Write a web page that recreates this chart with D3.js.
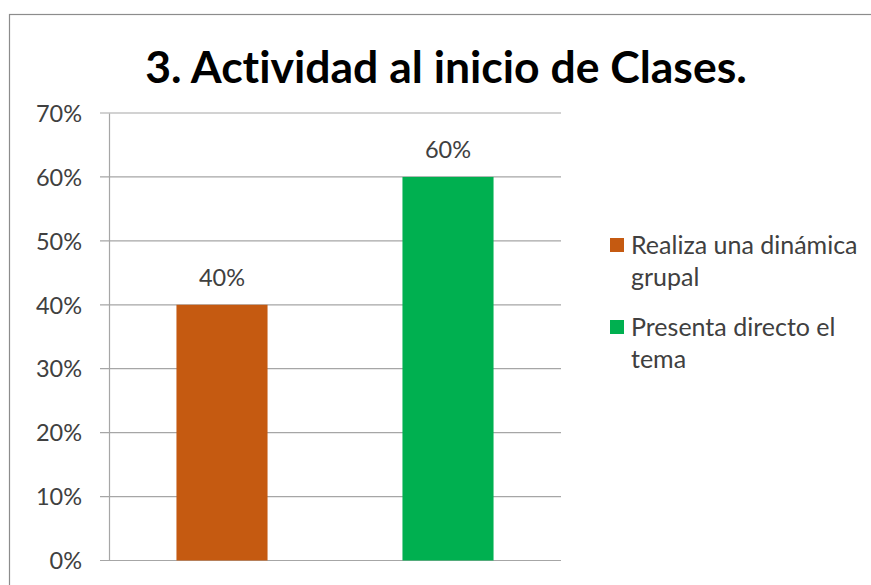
<!DOCTYPE html>
<html>
<head>
<meta charset="utf-8">
<script src="https://cdn.jsdelivr.net/npm/d3@7"></script>
<style>
  body { margin: 0; background: #fff; }
  text { font-family: Lato, "Open Sans", sans-serif; fill: #404040; font-variant-ligatures: none; }
</style>
</head>
<body>
<script>
// chart values
var categories = ["Realiza una dinámica grupal", "Presenta directo el tema"];
var values = [0.40, 0.60];
var colors = ["#C55A11", "#00B050"];
var yTicks = [0, 0.1, 0.2, 0.3, 0.4, 0.5, 0.6, 0.7];
var legendLines = [["Realiza una dinámica", "grupal"], ["Presenta directo el", "tema"]];
var title = "3. Actividad al inicio de Clases.";

var W = 871, H = 585;
var plot = {left: 109, right: 561, top: 113, bottom: 560.5};

var svg = d3.select("body").append("svg")
  .attr("width", W)
  .attr("height", H);

// chart border
svg.append("rect")
  .attr("x", 9.5).attr("y", 14.5)
  .attr("width", W + 10).attr("height", H + 10)
  .attr("fill", "#fff")
  .attr("stroke", "#8c8c8c")
  .attr("stroke-width", 1.2);

// title
svg.append("text")
  .attr("x", 446).attr("y", 83)
  .attr("text-anchor", "middle")
  .style("font-size", "44.5px")
  .style("font-weight", "bold")
  .style("fill", "#000")
  .text(title);

var x = d3.scaleBand()
  .domain(categories)
  .range([plot.left, plot.right])
  .paddingInner(0.597)
  .paddingOuter(0.2985);

var y = d3.scaleLinear()
  .domain([0, 0.7])
  .range([plot.bottom, plot.top]);

// gridlines
svg.append("g")
  .selectAll("line")
  .data(yTicks)
  .enter().append("line")
  .attr("x1", plot.left - 9)
  .attr("x2", plot.right)
  .attr("y1", function(d) { return y(d); })
  .attr("y2", function(d) { return y(d); })
  .attr("stroke", "#a6a6a6")
  .attr("stroke-width", 1.2);

// y axis
var yAxis = d3.axisLeft(y)
  .tickValues(yTicks)
  .tickFormat(d3.format(".0%"))
  .tickSize(0)
  .tickPadding(27);

var gy = svg.append("g")
  .attr("transform", "translate(" + plot.left + ",0)")
  .call(yAxis);
gy.select(".domain").attr("stroke", "#a6a6a6").attr("stroke-width", 1.2);
gy.selectAll("text")
  .style("font-size", "23.5px")
  .style("fill", "#404040")
  .attr("dy", "0.35em");

// bars
svg.selectAll(".bar")
  .data(values)
  .enter().append("rect")
  .attr("class", "bar")
  .attr("x", function(d, i) { return x(categories[i]); })
  .attr("width", x.bandwidth())
  .attr("y", function(d) { return y(d); })
  .attr("height", function(d) { return y(0) - y(d); })
  .attr("fill", function(d, i) { return colors[i]; });

// value labels
svg.selectAll(".lbl")
  .data(values)
  .enter().append("text")
  .attr("class", "lbl")
  .attr("x", function(d, i) { return x(categories[i]) + x.bandwidth() / 2; })
  .attr("y", function(d) { return y(d) - 19; })
  .attr("text-anchor", "middle")
  .style("font-size", "23.5px")
  .text(function(d) { return d3.format(".0%")(d); });

// legend
var legend = svg.selectAll(".legend")
  .data(legendLines)
  .enter().append("g")
  .attr("class", "legend")
  .attr("transform", function(d, i) { return "translate(610," + (238 + i * 82) + ")"; });

legend.append("rect")
  .attr("width", 14).attr("height", 14)
  .attr("fill", function(d, i) { return colors[i]; });

legend.append("text")
  .attr("x", 21)
  .attr("y", 16)
  .style("font-size", "25px")
  .selectAll("tspan")
  .data(function(d) { return d; })
  .enter().append("tspan")
  .attr("x", 21)
  .attr("dy", function(d, i) { return i === 0 ? 0 : 32; })
  .text(function(d) { return d; });
</script>
</body>
</html>
